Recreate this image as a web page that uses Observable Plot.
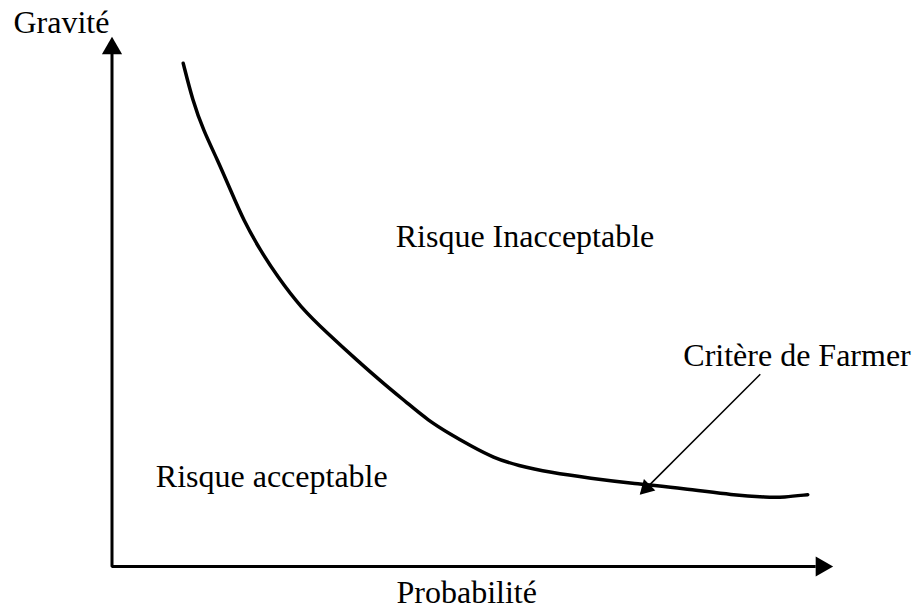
<!DOCTYPE html>
<html>
<head>
<meta charset="utf-8">
<script src="https://cdn.jsdelivr.net/npm/d3@7"></script>
<script src="https://cdn.jsdelivr.net/npm/@observablehq/plot@0.6"></script>
<style>
  html, body { margin: 0; padding: 0; background: #fff; }
  #chart svg { display: block; }
</style>
</head>
<body>
<div id="chart"></div>
<script>
// Farmer curve (probability x, gravity y), in axis units 0..100
const curveX = [9.9, 11.2, 12.7, 14.7, 16.5, 18.3, 20.6, 23.0, 26.2, 30.0, 34.1, 37.7, 41.1, 43.9, 47.1, 49.8, 53.0, 56.4, 60.9, 66.5, 72.5, 79.4, 86.4, 91.1, 93.3, 96.7];
const curveY = [95.3, 88.3, 82.6, 76.9, 71.2, 65.5, 59.9, 54.9, 49.1, 44.1, 39.0, 34.7, 30.9, 27.7, 25.0, 22.9, 20.6, 19.1, 17.8, 16.7, 15.7, 14.8, 13.5, 13.1, 13.1, 13.6];

// Axes (L-shaped polyline ending at the arrowheads)
const axisX = [0, 0, 97.8];
const axisY = [97.2, 0, 0];

// Annotation arrow "Critère de Farmer" -> curve
const pointerFrom = {x: 90.1, y: 36.4};
const pointerTo = {x: 73.5, y: 13.8};

// Labels (start-anchored and centred)
const startLabels = ["Gravité", "Critère de Farmer"];
const startX = [-13.7, 79.4];
const startY = [101.1, 37.9];
const midLabels = ["Probabilité", "Risque Inacceptable", "Risque acceptable"];
const midX = [49.3, 57.4, 22.2];
const midY = [-7.0, 60.6, 15.0];

const curve = curveX.map((x, i) => ({x, y: curveY[i]}));
const axis = axisX.map((x, i) => ({x, y: axisY[i]}));
const startData = startLabels.map((t, i) => ({text: t, x: startX[i], y: startY[i]}));
const midData = midLabels.map((t, i) => ({text: t, x: midX[i], y: midY[i]}));

const font = "'Liberation Serif', 'Times New Roman', serif";

const chart = Plot.plot({
  width: 912,
  height: 614,
  margin: 0,
  x: {domain: [0, 100], range: [111.5, 831], axis: null},
  y: {domain: [0, 100], range: [566, 38], axis: null},
  style: {background: "#fff", fontFamily: font},
  marks: [
    Plot.line(axis, {x: "x", y: "y", stroke: "#000", strokeWidth: 3, strokeLinejoin: "miter", strokeLinecap: "butt"}),
    Plot.dot([{x: 0, y: 100}], {x: "x", y: "y", symbol: "triangle", r: 7.5, fill: "#000", stroke: "none", dy: 10}),
    Plot.dot([{x: 100, y: 0}], {x: "x", y: "y", symbol: "triangle", r: 7.5, fill: "#000", stroke: "none", dx: -10, rotate: 90}),
    Plot.line(curve, {x: "x", y: "y", curve: "basis", stroke: "#000", strokeWidth: 3.5}),
    Plot.link([{x1: pointerFrom.x, y1: pointerFrom.y, x2: pointerTo.x, y2: pointerTo.y}], {x1: "x1", y1: "y1", x2: "x2", y2: "y2", stroke: "#000", strokeWidth: 1.5}),
    Plot.dot([pointerTo], {x: "x", y: "y", symbol: "triangle", r: 6, fill: "#000", stroke: "none", dx: 5.5, dy: -5.5, rotate: 225}),
    Plot.text(startData, {x: "x", y: "y", text: "text", textAnchor: "start", lineAnchor: "bottom", fontSize: 32, fill: "#000", fontFamily: font}),
    Plot.text(midData, {x: "x", y: "y", text: "text", textAnchor: "middle", lineAnchor: "bottom", fontSize: 32, fill: "#000", fontFamily: font})
  ]
});
document.getElementById("chart").appendChild(chart);
</script>
</body>
</html>
